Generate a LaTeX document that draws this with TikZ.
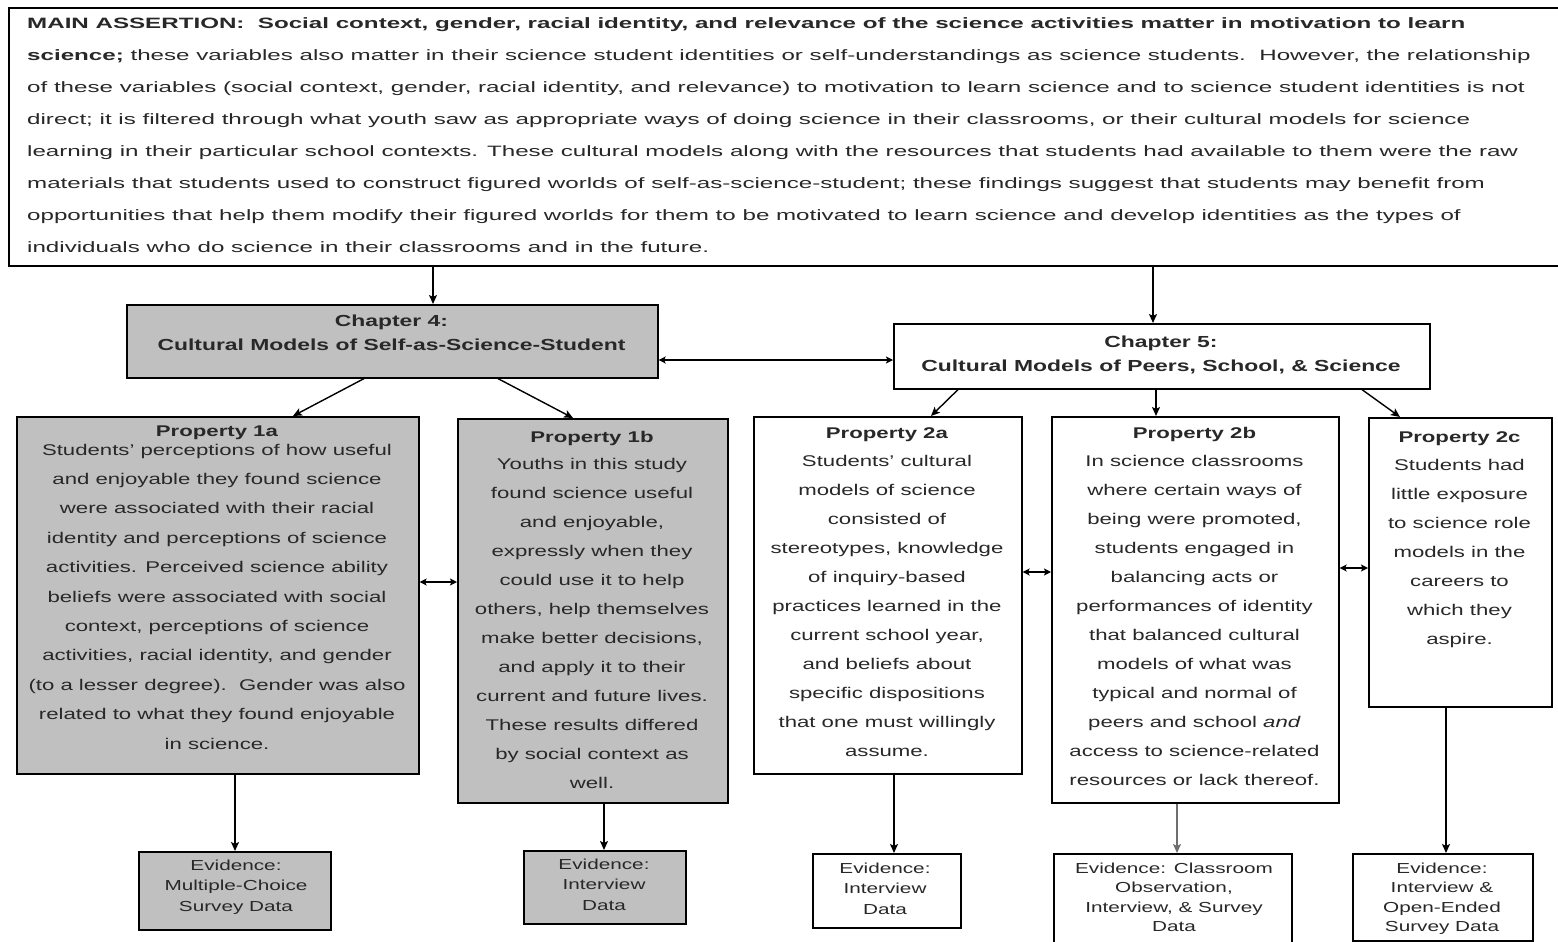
\documentclass[tikz,border=0pt]{standalone}
\usepackage{fontspec}
\setmainfont{Liberation Sans}[FakeStretch=1.43]
\newfontfamily\widesans{Liberation Sans}[FakeStretch=1.61]
\usetikzlibrary{arrows.meta,calc}
\definecolor{boxgray}{RGB}{192,192,192}
\definecolor{ink}{RGB}{40,40,40}
\definecolor{greyarrow}{RGB}{110,110,110}

\tikzset{
  frame/.style={draw=black, line width=1.6pt, inner sep=0pt, anchor=north west},
  graybox/.style={frame, fill=boxgray},
  whitebox/.style={frame, fill=white},
  tip/.tip={Stealth[length=9pt,width=8pt,inset=2pt]},
  smalltip/.tip={Stealth[length=7pt,width=7pt,inset=1.5pt]},
  arr/.style={line width=1.4pt, -tip},
  darr/.style={line width=1.4pt, smalltip-smalltip},
  maintext/.style={inner sep=0pt, anchor=north west, align=left, text=ink,
    font=\widesans\fontsize{15}{32}\selectfont},
  chaptext/.style={inner sep=0pt, anchor=north, align=center, text=ink,
    font=\bfseries\fontsize{16}{24}\selectfont},
  body/.style={inner sep=0pt, anchor=north, align=center, text=ink,
    font=\fontsize{15.5}{29}\selectfont},
  evid/.style={inner sep=0pt, anchor=north, align=center, text=ink,
    font=\fontsize{14.5}{20.5}\selectfont},
}

\begin{document}
\begin{tikzpicture}[x=1pt,y=-1pt]
\useasboundingbox (0,0) rectangle (1558,942);
\clip (0,0) rectangle (1558,942);

% main assertion
\node[whitebox, minimum width=1570pt, minimum height=258pt] (main) at (8,7) {};
\node[maintext] (mtext) at (27,6.1) {\strut\textbf{MAIN ASSERTION:\ \ Social context, gender, racial identity, and relevance of the science activities matter in motivation to learn}\\
\textbf{science;} these variables also matter in their science student identities or self-understandings as science students.\ \ However, the relationship\\
of these variables (social context, gender, racial identity, and relevance) to motivation to learn science and to science student identities is not\\
direct; it is filtered through what youth saw as appropriate ways of doing science in their classrooms, or their cultural models for science\\
learning in their particular school contexts. These cultural models along with the resources that students had available to them were the raw\\
materials that students used to construct figured worlds of self-as-science-student; these findings suggest that students may benefit from\\
opportunities that help them modify their figured worlds for them to be motivated to learn science and develop identities as the types of\\
individuals who do science in their classrooms and in the future.};

% chapters
\node[graybox, minimum width=531pt, minimum height=73pt] (ch4) at (126,304) {};
\node[chaptext] (ch4t) at (391.5,309.9) {\strut Chapter 4:\\Cultural Models of Self-as-Science-Student};
\node[whitebox, minimum width=536pt, minimum height=65pt] (ch5) at (893,323) {};
\node[chaptext] (ch5t) at (1161,330) {\strut Chapter 5:\\Cultural Models of Peers, School, \& Science};

% properties
\node[graybox, minimum width=402pt, minimum height=357pt] (p1a) at (16,416) {};
\node[body, font=\fontsize{15.5}{29.4}\selectfont] (p1at) at (217,415.4) {\strut\textbf{Property 1a}\\[-10.4pt]
Students' perceptions of how useful\\
and enjoyable they found science\\
were associated with their racial\\
identity and perceptions of science\\
activities. Perceived science ability\\
beliefs were associated with social\\
context, perceptions of science\\
activities, racial identity, and gender\\
(to a lesser degree).\ \ Gender was also\\
related to what they found enjoyable\\
in science.};

\node[graybox, minimum width=270pt, minimum height=384pt] (p1b) at (457,418) {};
\node[body] (p1bt) at (592,421.7) {\strut\textbf{Property 1b}\\[-1.5pt]
Youths in this study\\
found science useful\\
and enjoyable,\\
expressly when they\\
could use it to help\\
others, help themselves\\
make better decisions,\\
and apply it to their\\
current and future lives.\\
These results differed\\
by social context as\\
well.};

\node[whitebox, minimum width=268pt, minimum height=357pt] (p2a) at (753,416) {};
\node[body] (p2at) at (887,417.7) {\strut\textbf{Property 2a}\\[-0.5pt]
Students' cultural\\
models of science\\
consisted of\\
stereotypes, knowledge\\
of inquiry-based\\
practices learned in the\\
current school year,\\
and beliefs about\\
specific dispositions\\
that one must willingly\\
assume.};

\node[whitebox, minimum width=287pt, minimum height=386pt] (p2b) at (1051,416) {};
\node[body] (p2bt) at (1194.5,417.7) {\strut\textbf{Property 2b}\\[-0.5pt]
In science classrooms\\
where certain ways of\\
being were promoted,\\
students engaged in\\
balancing acts or\\
performances of identity\\
that balanced cultural\\
models of what was\\
typical and normal of\\
peers and school \textit{and}\\
access to science-related\\
resources or lack thereof.};

\node[whitebox, minimum width=183pt, minimum height=289pt] (p2c) at (1368,417) {};
\node[body] (p2ct) at (1459.5,422.4) {\strut\textbf{Property 2c}\\[-1.7pt]
Students had\\
little exposure\\
to science role\\
models in the\\
careers to\\
which they\\
aspire.};

% evidence
\node[graybox, minimum width=192pt, minimum height=78pt] (e1a) at (138,851) {};
\node[evid] (e1at) at (236,855.65) {\strut Evidence:\\Multiple-Choice\\Survey Data};
\node[graybox, minimum width=162pt, minimum height=73pt] (e1b) at (523,850) {};
\node[evid] (e1bt) at (604,854.65) {\strut Evidence:\\Interview\\Data};
\node[whitebox, minimum width=148pt, minimum height=74pt] (e2a) at (812,853) {};
\node[evid] (e2at) at (885,858.65) {\strut Evidence:\\Interview\\Data};
\node[whitebox, minimum width=238pt, minimum height=110pt] (e2b) at (1053,853) {};
\node[evid, font=\fontsize{14.5}{19.5}\selectfont] (e2bt) at (1174,859.35) {\strut Evidence: Classroom\\Observation,\\Interview, \& Survey\\Data};
\node[whitebox, minimum width=180pt, minimum height=87pt] (e2c) at (1352,853) {};
\node[evid, font=\fontsize{14.5}{19.5}\selectfont] (e2ct) at (1442,859.35) {\strut Evidence:\\Interview \&\\Open-Ended\\Survey Data};

% connectors
\draw[arr] (main.south -| 433,0) -- (ch4.north -| 433,0);
\draw[arr] (main.south -| 1153,0) -- (ch5.north -| 1153,0);
\draw[darr] (ch4.east |- 0,360) -- (ch5.west |- 0,360);

\draw[arr] (ch4.south -| 364,0) -- (p1a.north -| 293,0);
\draw[arr] (ch4.south -| 498,0) -- (p1b.north -| 573,0);
\draw[arr] (ch5.south -| 958,0) -- (p2a.north -| 931,0);
\draw[arr] (ch5.south -| 1156,0) -- (p2b.north -| 1156,0);
\draw[arr] (ch5.south -| 1362,0) -- (p2c.north -| 1400,0);

\draw[darr] (p1a.east |- 0,582) -- (p1b.west |- 0,582);
\draw[darr] (p2a.east |- 0,572) -- (p2b.west |- 0,572);
\draw[darr] (p2b.east |- 0,568) -- (p2c.west |- 0,568);

\draw[arr] (p1a.south -| 235,0) -- (e1a.north -| 235,0);
\draw[arr] (p1b.south -| 604,0) -- (e1b.north -| 604,0);
\draw[arr] (p2a.south -| 894,0) -- (e2a.north -| 894,0);
\draw[arr, draw=greyarrow] (p2b.south -| 1177,0) -- (e2b.north -| 1177,0);
\draw[arr] (p2c.south -| 1446,0) -- (e2c.north -| 1446,0);
\end{tikzpicture}
\end{document}
